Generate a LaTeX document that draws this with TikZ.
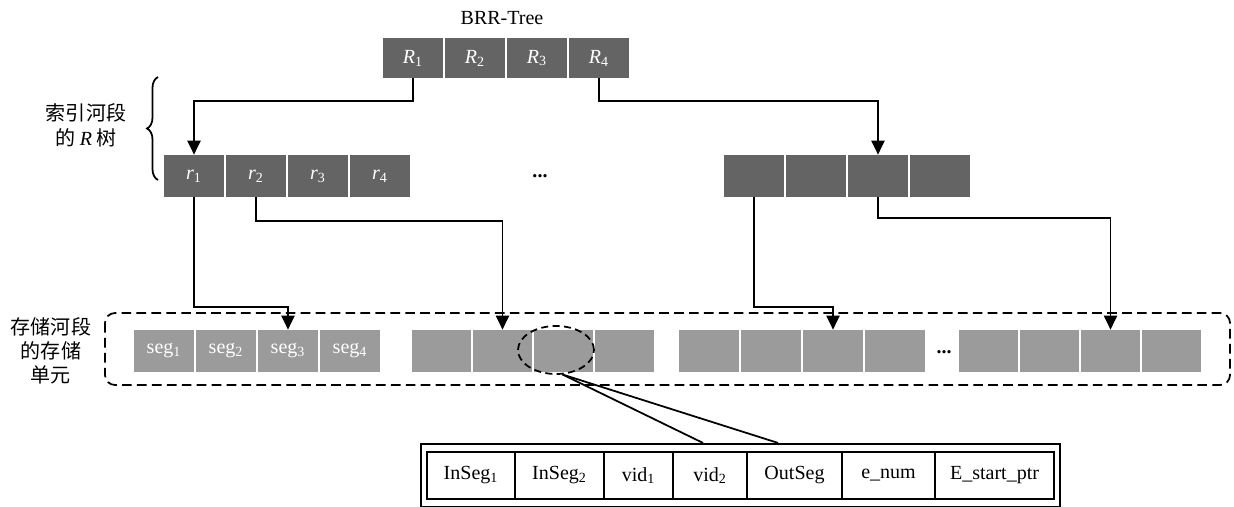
\documentclass[tikz,border=0pt]{standalone}
\usepackage{fontspec}
\setmainfont{Liberation Serif}
\newfontfamily\cjk{Noto Sans CJK SC}
\usepackage{tikz}
\usetikzlibrary{arrows.meta,shapes.geometric,decorations.pathreplacing,fit}
\definecolor{rdark}{HTML}{646464}
\definecolor{seggray}{HTML}{9B9B9B}
\tikzset{
  rbox/.style={fill=rdark, text=white, minimum width=1.2cm, minimum height=0.8cm},
  cbox/.style={fill=rdark, text=white, minimum width=1.2cm, minimum height=0.84cm},
  segbox/.style={fill=seggray, text=white, minimum width=1.19cm, minimum height=0.84cm},
  cell/.style={draw, line width=0.8pt, minimum height=0.94cm},
  link/.style={line width=1pt, -{Triangle[length=8pt,width=7.5pt]}},
  ring/.style={draw, dashed, ellipse, line width=1pt, dash pattern=on 4pt off 2.5pt},
}
\begin{document}
\begin{tikzpicture}[x=0.02cm,y=-0.02cm,font=\fontsize{11.4}{13.7}\selectfont]
\tikzstyle{every node}+=[inner sep=0pt]
\useasboundingbox (0,0) rectangle (1234,507);
\node [anchor=base] (title) at (502,25) {BRR-Tree};
\node [rbox] (R1) at (413,58) {\textit{R}\textsubscript{1}};
\node [rbox] (R2) at (475,58) {\textit{R}\textsubscript{2}};
\node [rbox] (R3) at (537,58) {\textit{R}\textsubscript{3}};
\node [rbox] (R4) at (599,58) {\textit{R}\textsubscript{4}};
\node [cbox] (r1) at (194,176) {\textit{r}\textsubscript{1}};
\node [cbox] (r2) at (256,176) {\textit{r}\textsubscript{2}};
\node [cbox] (r3) at (318,176) {\textit{r}\textsubscript{3}};
\node [cbox] (r4) at (380,176) {\textit{r}\textsubscript{4}};
\node (rdots) at (540,176) {\textbf{...}};
\node [cbox] (c1) at (754,176) {};
\node [cbox] (c2) at (816,176) {};
\node [cbox] (c3) at (878,176) {};
\node [cbox] (c4) at (940,176) {};
\node [align=center, font=\cjk\fontsize{11.4}{14.2}\selectfont] (rtreelbl) at (86,125) {索引河段\\的 {\rmfamily\textit{R}} 树};
\draw [line width=1pt, decorate, decoration={brace, amplitude=0.22cm}] (158,180) -- (158,77);
\draw [line width=1pt, rounded corners=0.2cm, dash pattern=on 5.5pt off 3pt] (105,313) rectangle (1230,385);
\node [align=center, font=\cjk\fontsize{11.4}{13.7}\selectfont] (storelbl) at (51,351) {存储河段\\的存储\\单元};
\node [segbox] (s11) at (164,351) {seg\textsubscript{1}};
\node [segbox] (s12) at (226,351) {seg\textsubscript{2}};
\node [segbox] (s13) at (288,351) {seg\textsubscript{3}};
\node [segbox] (s14) at (350,351) {seg\textsubscript{4}};
\node [segbox] (s21) at (441.5,351) {};
\node [segbox] (s22) at (502.5,351) {};
\node [segbox] (s23) at (563.5,351) {};
\node [segbox] (s24) at (624.5,351) {};
\node [segbox] (s31) at (709,351) {};
\node [segbox] (s32) at (771,351) {};
\node [segbox] (s33) at (833,351) {};
\node [segbox] (s34) at (895,351) {};
\node (sdots) at (944,352) {\textbf{...}};
\node [segbox] (s41) at (988.5,351) {};
\node [segbox] (s42) at (1049.5,351) {};
\node [segbox] (s43) at (1110.5,351) {};
\node [segbox] (s44) at (1171.5,351) {};
\node [ring, minimum width=1.52cm, minimum height=0.96cm] (zoomring) at (556,350) {};
\draw [link] (R1.south) -- ++(0,23) -| (r1.north);
\draw [link] (R4.south) -- ++(0,23) -| (c3.north);
\draw [link] (r1.south) -- ++(0,110) -| (s13.north);
\draw [link] (r2.south) -- ++(0,24) -| (s22.north);
\draw [link] (c1.south) -- ++(0,110) -| (s33.north);
\draw [link] (c3.south) -- ++(0,21) -| (s43.north);
\node [cell, minimum width=1.76cm] (inseg1) at (471,475.5) {InSeg\textsubscript{1}};
\node [cell, minimum width=1.78cm] (inseg2) at (559.5,475.5) {InSeg\textsubscript{2}};
\node [cell, minimum width=1.38cm] (vid1) at (638.5,475.5) {vid\textsubscript{1}};
\node [cell, minimum width=1.48cm] (vid2) at (710,475.5) {vid\textsubscript{2}};
\node [cell, minimum width=1.9cm] (outseg) at (794.5,475.5) {OutSeg};
\node [cell, minimum width=1.86cm] (enum) at (888.5,475.5) {e\_num};
\node [cell, minimum width=2.38cm] (estart) at (994.5,475.5) {E\_start\_ptr};
\node [draw, line width=1pt, fit=(inseg1)(estart), inner xsep=0.11cm, inner ysep=0.15cm] (tblframe) {};
\coordinate (zoomL) at (703,0 |- tblframe.north);
\coordinate (zoomR) at (778,0 |- tblframe.north);
\draw [line width=1pt] (zoomring.-75) -- (zoomL);
\draw [line width=1pt] (zoomring.-75) -- (zoomR);
\end{tikzpicture}
\end{document}
